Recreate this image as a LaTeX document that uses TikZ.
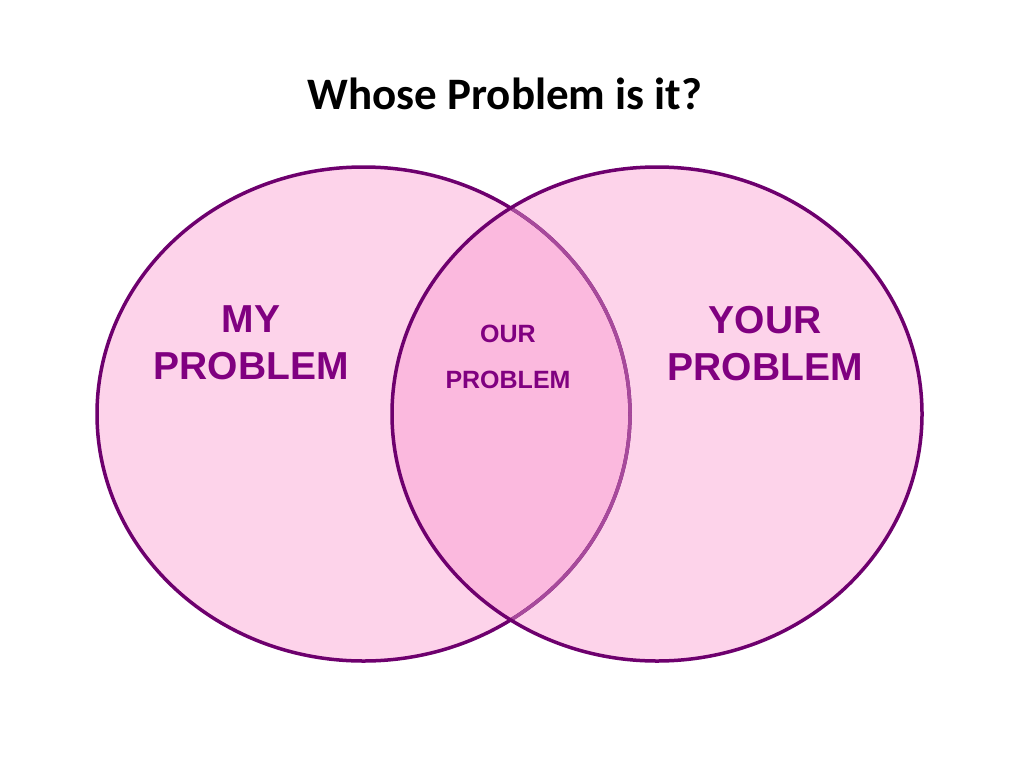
\documentclass[tikz,border=0pt]{standalone}
\usepackage{fontspec}
\setmainfont{Liberation Sans}
\newfontfamily\titlefont{Carlito}
\usepackage{tikz}
\definecolor{venfill}{HTML}{FDD3EA}
\definecolor{venmid}{HTML}{FBB9DE}
\definecolor{venline}{HTML}{6E006E}
\definecolor{ventext}{HTML}{800080}

\begin{document}
\begin{tikzpicture}[x=1pt,y=-1pt,
    bubble/.style={line width=3.5pt},
    biglabel/.style={text=ventext,font=\bfseries\fontsize{39}{47}\selectfont,align=center},
    smalllabel/.style={text=ventext,font=\bfseries\fontsize{25}{46}\selectfont,align=center}]
    \useasboundingbox (0,0) rectangle (1024,768);
    \fill[white](0,0) rectangle (1024,768);
    \def\mine{(363.5,414) ellipse (266.5 and 247)}
    \def\yours{(657,414) ellipse (265 and 247)}
    \fill[venfill]\mine; % left fill
    \fill[venfill]\yours; % right fill
    \begin{scope}
      \clip\mine;
      \fill[venmid]\yours; % overlap
    \end{scope}
    \draw[bubble,venline]\mine; % left border
    \begin{scope}
      \clip\yours;
      \draw[bubble,venline!60!venmid]\mine; % border seen through
    \end{scope}
    \draw[bubble,venline]\yours; % right border
    \node[anchor=base,font=\titlefont\bfseries\fontsize{45}{54}\selectfont] (title) at (505,109) {Whose Problem is it?};
    \node[biglabel,anchor=base] (mylabel) at (251,379) {MY\\PROBLEM}; % left
    \node[biglabel,anchor=base] (yourlabel) at (765,380) {YOUR\\PROBLEM}; % right
    \node[smalllabel,anchor=base] (ourlabel) at (508,388) {OUR\\PROBLEM}; % middle
\end{tikzpicture}
\end{document}
